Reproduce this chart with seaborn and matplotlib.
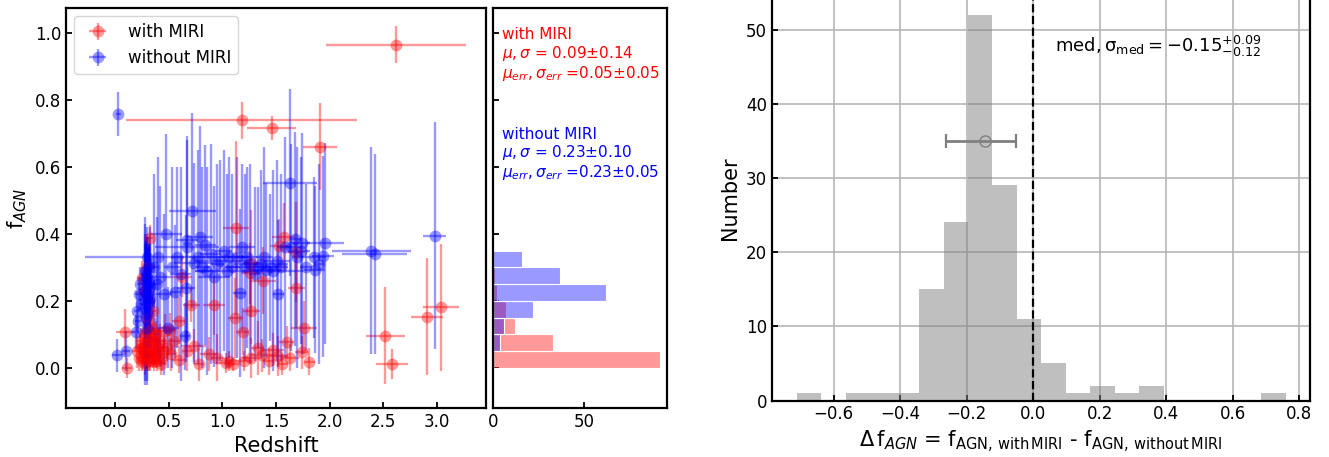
import numpy as np
import pandas as pd
import matplotlib
matplotlib.use("Agg")
import matplotlib.pyplot as plt
import seaborn as sns

# ---------------- data: with MIRI (red) ----------------
red_z = [2.62, 1.18, 1.46, 1.91, 2.52, 2.58, 2.91, 3.04,
         1.13, 1.57, 1.53, 1.69, 1.27, 0.62, 1.38, 1.26, 0.25, 1.69,
         0.71, 0.92, 1.27, 1.12, 0.59, 1.19, 0.09, 1.76, 0.32, 0.30,
         0.87, 1.03, 1.10, 1.06, 1.47, 1.52, 1.74, 1.81, 1.27, 1.37,
         1.60, 0.73, 0.59, 0.51, 1.33, 1.43, 1.63, 0.95, 1.20, 0.67,
         1.56, 0.78,
         0.11, 0.20, 0.22, 0.24, 0.25, 0.26, 0.27, 0.28, 0.29, 0.30,
         0.31, 0.32, 0.33, 0.34, 0.35, 0.36, 0.37, 0.38, 0.39, 0.40,
         0.42, 0.44, 0.46, 0.48, 0.52, 0.55, 0.29, 0.31, 0.27, 0.35,
         0.23, 0.26, 0.28, 0.30, 0.32, 0.33, 0.34, 0.36, 0.37, 0.38,
         0.41, 0.43, 0.45, 0.30, 0.27]
red_f = [0.965, 0.74, 0.716, 0.66, 0.096, 0.011, 0.153, 0.181,
         0.417, 0.392, 0.365, 0.346, 0.312, 0.272, 0.260, 0.282, 0.268, 0.238,
         0.188, 0.188, 0.171, 0.148, 0.141, 0.108, 0.107, 0.120, 0.387, 0.300,
         0.042, 0.014, 0.010, 0.020, 0.054, 0.035, 0.046, 0.018, 0.030, 0.037,
         0.076, 0.066, 0.024, 0.113, 0.060, 0.020, 0.030, 0.030, 0.020, 0.050,
         0.010, 0.010,
         0.000, 0.050, 0.030, 0.080, 0.020, 0.060, 0.100, 0.010, 0.040, 0.070,
         0.020, 0.090, 0.050, 0.120, 0.030, 0.080, 0.060, 0.100, 0.020, 0.050,
         0.080, 0.030, 0.110, 0.060, 0.040, 0.080, 0.150, 0.200, 0.230, 0.170,
         0.060, 0.030, 0.070, 0.040, 0.020, 0.080, 0.050, 0.020, 0.100, 0.040,
         0.070, 0.010, 0.050, 0.110, 0.050]
red_zerr = [0.65, 1.08, 0.23, 0.16, 0.18, 0.15, 0.15, 0.165,
            0.12, 0.11, 0.09, 0.08, 0.08, 0.10, 0.12, 0.09, 0.05, 0.08,
            0.08, 0.10, 0.08, 0.07, 0.06, 0.06, 0.08, 0.12, 0.03, 0.02,
            0.08, 0.06, 0.05, 0.04, 0.10, 0.09, 0.06, 0.05, 0.09, 0.10,
            0.07, 0.12, 0.06, 0.06, 0.06, 0.05, 0.08, 0.06, 0.08, 0.05,
            0.05, 0.05,
            0.05, 0.04, 0.03, 0.04, 0.03, 0.03, 0.02, 0.03, 0.02, 0.03,
            0.02, 0.03, 0.02, 0.03, 0.04, 0.03, 0.04, 0.03, 0.05, 0.04,
            0.06, 0.05, 0.07, 0.06, 0.05, 0.06, 0.02, 0.02, 0.02, 0.03,
            0.03, 0.02, 0.03, 0.02, 0.03, 0.02, 0.03, 0.03, 0.02, 0.04,
            0.03, 0.04, 0.05, 0.02, 0.03]
red_ferr = [0.055, 0.055, 0.035, 0.13, 0.145, 0.045, 0.175, 0.19,
            0.26, 0.10, 0.08, 0.15, 0.16, 0.06, 0.10, 0.09, 0.05, 0.12,
            0.05, 0.09, 0.10, 0.12, 0.07, 0.07, 0.07, 0.08, 0.04, 0.10,
            0.05, 0.03, 0.02, 0.03, 0.05, 0.06, 0.05, 0.04, 0.06, 0.05,
            0.05, 0.05, 0.04, 0.05, 0.08, 0.04, 0.04, 0.07, 0.03, 0.06,
            0.03, 0.05,
            0.03, 0.05, 0.04, 0.04, 0.03, 0.05, 0.04, 0.03, 0.05, 0.04,
            0.03, 0.05, 0.04, 0.05, 0.03, 0.04, 0.05, 0.04, 0.03, 0.04,
            0.05, 0.04, 0.05, 0.04, 0.05, 0.04, 0.06, 0.05, 0.04, 0.06,
            0.04, 0.03, 0.05, 0.04, 0.03, 0.05, 0.04, 0.03, 0.05, 0.04,
            0.05, 0.03, 0.04, 0.06, 0.04]

# ---------------- data: without MIRI (blue) ----------------
blue_z = [0.03, 1.63, 0.72, 2.39, 2.98, 0.475, 0.40, 2.42,
          0.79, 0.84, 1.06, 1.16, 1.52, 1.41, 1.44, 1.33, 1.86, 1.94,
          1.96, 1.85, 1.74, 1.68, 1.36, 0.92, 0.73, 0.67, 0.67, 1.18,
          0.98, 0.86, 0.42, 0.66, 0.56, 0.45, 0.65, 0.49, 1.04, 1.21,
          1.47, 1.64, 1.73, 1.51, 1.23,
          0.36, 0.39, 0.53, 0.58, 0.61, 0.77, 0.81, 0.89, 0.95, 1.01,
          1.09, 1.14, 1.26, 1.30, 1.39, 1.55, 1.58, 1.70, 1.78, 1.90,
          0.015, 0.10, 0.19, 0.20, 0.22, 0.21, 0.23, 0.24,
          0.29, 0.30, 0.31, 0.30, 0.28, 0.32, 0.30, 0.29, 0.31, 0.30,
          0.28, 0.31, 0.30, 0.32, 0.29, 0.30, 0.31, 0.30, 0.28, 0.29,
          0.30, 0.31, 0.30, 0.29, 0.31, 0.30, 0.32, 0.30, 0.28]
blue_f = [0.758, 0.553, 0.470, 0.350, 0.395, 0.400, 0.330, 0.340,
          0.392, 0.367, 0.330, 0.224, 0.221, 0.293, 0.300, 0.300, 0.293, 0.333,
          0.372, 0.330, 0.372, 0.385, 0.310, 0.272, 0.312, 0.382, 0.362, 0.360,
          0.320, 0.290, 0.272, 0.238, 0.228, 0.220, 0.094, 0.120, 0.290, 0.300,
          0.290, 0.360, 0.350, 0.320, 0.330,
          0.30, 0.25, 0.30, 0.33, 0.28, 0.33, 0.30, 0.34, 0.31, 0.35,
          0.30, 0.33, 0.31, 0.28, 0.33, 0.30, 0.36, 0.33, 0.30, 0.31,
          0.037, 0.050, 0.107, 0.170, 0.220, 0.140, 0.250, 0.190,
          0.15, 0.17, 0.19, 0.21, 0.23, 0.25, 0.27, 0.29, 0.31, 0.33,
          0.18, 0.20, 0.22, 0.24, 0.26, 0.28, 0.30, 0.16, 0.20, 0.22,
          0.24, 0.26, 0.12, 0.27, 0.23, 0.19, 0.21, 0.25, 0.29]
blue_zerr = [0.02, 0.25, 0.22, 0.37, 0.11, 0.15, 0.68, 0.30,
             0.12, 0.10, 0.20, 0.06, 0.05, 0.15, 0.08, 0.12, 0.10, 0.10,
             0.17, 0.12, 0.08, 0.05, 0.25, 0.15, 0.18, 0.10, 0.30, 0.12,
             0.25, 0.12, 0.10, 0.08, 0.05, 0.08, 0.05, 0.10, 0.30, 0.15,
             0.28, 0.10, 0.09, 0.12, 0.10,
             0.05, 0.04, 0.08, 0.06, 0.10, 0.08, 0.07, 0.10, 0.06, 0.08,
             0.07, 0.10, 0.06, 0.05, 0.08, 0.06, 0.07, 0.05, 0.06, 0.05,
             0.05, 0.04, 0.03, 0.03, 0.04, 0.03, 0.03, 0.02,
             0.02, 0.01, 0.02, 0.03, 0.02, 0.02, 0.01, 0.02, 0.03, 0.02,
             0.02, 0.01, 0.02, 0.02, 0.03, 0.01, 0.02, 0.02, 0.02, 0.01,
             0.02, 0.02, 0.03, 0.01, 0.02, 0.02, 0.03, 0.02, 0.02]
blue_ferr = [0.065, 0.28, 0.29, 0.31, 0.34, 0.30, 0.30, 0.30,
             0.33, 0.30, 0.30, 0.25, 0.22, 0.26, 0.22, 0.24, 0.25, 0.30,
             0.30, 0.24, 0.33, 0.32, 0.28, 0.27, 0.30, 0.30, 0.33, 0.25,
             0.30, 0.31, 0.27, 0.22, 0.20, 0.24, 0.10, 0.12, 0.29, 0.28,
             0.30, 0.31, 0.28, 0.30, 0.27,
             0.28, 0.20, 0.30, 0.27, 0.32, 0.32, 0.30, 0.33, 0.30, 0.30,
             0.28, 0.30, 0.30, 0.26, 0.33, 0.28, 0.33, 0.33, 0.25, 0.30,
             0.05, 0.06, 0.05, 0.06, 0.05, 0.04, 0.05, 0.04,
             0.15, 0.12, 0.18, 0.10, 0.20, 0.12, 0.15, 0.10, 0.08, 0.06,
             0.22, 0.14, 0.10, 0.18, 0.12, 0.09, 0.06, 0.20, 0.25, 0.16,
             0.12, 0.10, 0.17, 0.08, 0.14, 0.20, 0.13, 0.11, 0.08]

# ---------------- side histogram of f_AGN ----------------
side_edges = [0.00, 0.05, 0.10, 0.15, 0.20, 0.25, 0.30, 0.35]
side_red_counts = [92, 33, 12, 7, 2, 1, 0]
side_blue_counts = [0, 4, 6, 22, 62, 37, 16]

red_label_lines = ["with MIRI", r"$\mu,\sigma$ = 0.09$\pm$0.14",
                   r"$\mu_{err},\sigma_{err}$ =0.05$\pm$0.05"]
blue_label_lines = ["without MIRI", r"$\mu,\sigma$ = 0.23$\pm$0.10",
                    r"$\mu_{err},\sigma_{err}$ =0.23$\pm$0.05"]

# ---------------- delta f_AGN histogram ----------------
delta_min, delta_max, delta_nbins = -0.711, 0.760, 20
delta_counts = [1, 0, 1, 1, 1, 15, 24, 52, 29, 11,
                5, 1, 2, 1, 2, 0, 0, 0, 0, 1]
med_value, med_err_lo, med_err_hi = -0.145, 0.118, 0.092
med_marker_y = 35

# ---------------- style ----------------
sns.set_style("ticks")
plt.rcParams.update({
    "font.family": ["DejaVu Sans"],
    "mathtext.fontset": "dejavusans",
    "text.color": "black",
    "axes.labelcolor": "black",
    "axes.edgecolor": "black",
    "axes.linewidth": 1.6,
    "xtick.direction": "in", "ytick.direction": "in",
    "xtick.color": "black", "ytick.color": "black",
    "xtick.major.size": 4, "ytick.major.size": 4,
    "xtick.major.width": 1.3, "ytick.major.width": 1.3,
    "xtick.labelsize": 12, "ytick.labelsize": 12,
})

W, H = 1329, 457
fig = plt.figure(figsize=(W / 100, H / 100), dpi=100)
ax1 = fig.add_axes([66 / W, 49 / H, 420 / W, 400 / H])
ax2 = fig.add_axes([493 / W, 49 / H, 174 / W, 400 / H], sharey=ax1)
ax3 = fig.add_axes([772 / W, 56.5 / H, 538 / W, 405 / H])

# ---- scatter panel ----
ax1.errorbar(red_z, red_f, xerr=red_zerr, yerr=red_ferr, fmt="o", color="red",
             alpha=0.4, ms=8.5, mew=0, elinewidth=1.7, label="with MIRI")
ax1.errorbar(blue_z, blue_f, xerr=blue_zerr, yerr=blue_ferr, fmt="o", color="blue",
             alpha=0.4, ms=8.5, mew=0, elinewidth=1.7, label="without MIRI")
ax1.set_xlim(-0.46, 3.46)
ax1.set_ylim(-0.12, 1.075)
ax1.set_xticks([0.0, 0.5, 1.0, 1.5, 2.0, 2.5, 3.0])
ax1.set_yticks([0.0, 0.2, 0.4, 0.6, 0.8, 1.0])
ax1.set_xlabel("Redshift", fontsize=15)
ax1.set_ylabel("f$_{AGN}$", fontsize=15)
leg = ax1.legend(loc="upper left", fontsize=12, frameon=True, borderaxespad=0.5)
leg.get_frame().set_edgecolor("0.8")

# ---- side histogram ----
side_centers = [(a + b) / 2 for a, b in zip(side_edges[:-1], side_edges[1:])]
side_df = pd.DataFrame({"f": side_centers, "red": side_red_counts, "blue": side_blue_counts})
sns.histplot(data=side_df, y="f", weights="red", bins=side_edges, color="red",
             alpha=0.4, edgecolor="white", linewidth=0.8, ax=ax2)
sns.histplot(data=side_df, y="f", weights="blue", bins=side_edges, color="blue",
             alpha=0.4, edgecolor="white", linewidth=0.8, ax=ax2)
ax2.set_xlim(0, 95.6)
ax2.set_xticks([0, 50])
ax2.set_xlabel("")
ax2.set_ylabel("")
ax2.tick_params(axis="y", labelleft=False)
for txt, yy in zip(red_label_lines, [0.933, 0.887, 0.837]):
    ax2.text(0.052, yy, txt, color="red", fontsize=11, transform=ax2.transAxes, va="center")
for txt, yy in zip(blue_label_lines, [0.683, 0.638, 0.588]):
    ax2.text(0.052, yy, txt, color="blue", fontsize=11, transform=ax2.transAxes, va="center")
ax1.set_ylim(-0.12, 1.075)

# ---- delta histogram ----
delta_edges = np.linspace(delta_min, delta_max, delta_nbins + 1).tolist()
delta_centers = [(a + b) / 2 for a, b in zip(delta_edges[:-1], delta_edges[1:])]
delta_df = pd.DataFrame({"d": delta_centers, "n": delta_counts})
ax3.set_axisbelow(True)
ax3.grid(True, color="#b0b0b0", linewidth=1.1)
sns.histplot(data=delta_df, x="d", weights="n", bins=delta_edges, color="gray",
             alpha=0.5, linewidth=0, ax=ax3)
ax3.axvline(0, color="black", linestyle="--", linewidth=1.6)
ax3.errorbar([med_value], [med_marker_y], xerr=[[med_err_lo], [med_err_hi]], fmt="o",
             mfc="none", mec="gray", color="gray", ms=8, elinewidth=2, capsize=5, capthick=1.6)
ax3.text(0.066, 47.7, r"$\rm med, \sigma_{med} = -0.15^{+0.09}_{-0.12}$", fontsize=13,
         va="center", ha="left", color="black")
ax3.set_xlim(-0.786, 0.833)
ax3.set_ylim(0, 54.6)
ax3.set_xticks([-0.6, -0.4, -0.2, 0.0, 0.2, 0.4, 0.6, 0.8])
ax3.set_yticks([0, 10, 20, 30, 40, 50])
ax3.set_ylabel("Number", fontsize=15)
ax3.set_xlabel(r"$\Delta\,\rm f_{\it AGN}$ = $\rm f_{AGN,\,with\,MIRI}$ - $\rm f_{AGN,\,without\,MIRI}$",
               fontsize=15)

fig.savefig("out.png", dpi=100)
